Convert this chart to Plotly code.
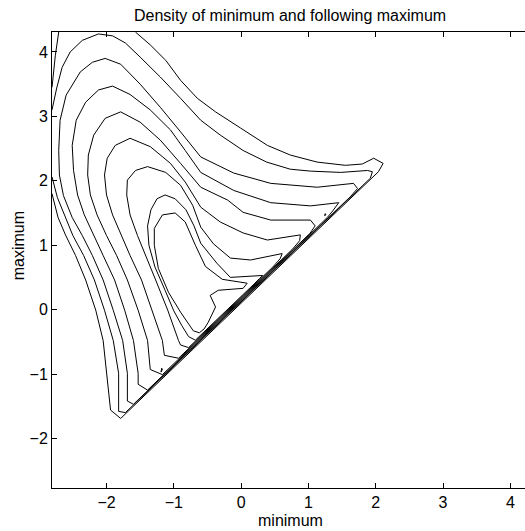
import plotly.graph_objects as go

# Contour lines, as (minimum, maximum) pairs, outermost level first
lvl0_corner_x = [-2.71, -2.76, -2.81]
lvl0_corner_y = [4.31, 3.95, 3.45]

lvl0_x = [-1.57, -1.35, -1.12, -0.90, -0.65, -0.38, -0.01, 0.39, 0.73, 1.13, 1.55, 1.80, 1.97, 2.11, 2.04,
          -1.79, -1.94, -1.97, -2.00, -2.05, -2.16, -2.31, -2.46, -2.61, -2.72, -2.81]
lvl0_y = [4.31, 4.11, 3.87, 3.56, 3.28, 3.07, 2.82, 2.55, 2.40, 2.29, 2.24, 2.26, 2.35, 2.27, 2.14,
          -1.69, -1.56, -1.25, -0.99, -0.48, -0.01, 0.46, 0.84, 1.16, 1.43, 1.80]

lvl1_x = [-2.81, -2.74, -2.66, -2.54, -2.36, -2.12, -1.91, -1.72, -1.50, -1.20, -0.90, -0.60, -0.31, 0.03,
          0.38, 0.73, 1.03, 1.48, 1.88, 1.95, 1.92,
          -1.72, -1.82, -1.82, -1.90, -2.03, -2.18, -2.34, -2.50, -2.61, -2.73, -2.81]
lvl1_y = [3.10, 3.44, 3.76, 4.00, 4.18, 4.28, 4.25, 4.14, 3.92, 3.61, 3.28, 2.94, 2.71, 2.47,
          2.29, 2.18, 2.15, 2.13, 2.16, 2.14, 2.04,
          -1.60, -1.58, -0.99, -0.48, -0.01, 0.46, 0.84, 1.15, 1.43, 1.74, 2.06]

lvl2_x = [-1.60, -1.69, -1.69, -1.76, -1.90, -2.05, -2.21, -2.36, -2.51, -2.64, -2.70, -2.71, -2.69, -2.60,
          -2.39, -2.21, -2.02, -1.79, -1.50, -1.20, -0.90, -0.60, -0.11, 0.44, 1.13, 1.67, 1.73, 1.62, -1.60]
lvl2_y = [-1.47, -1.42, -0.99, -0.48, -0.01, 0.46, 0.84, 1.15, 1.43, 1.77, 2.09, 2.47, 2.94, 3.33,
          3.69, 3.84, 3.90, 3.81, 3.50, 3.14, 2.76, 2.37, 2.12, 1.96, 1.90, 1.96, 1.88, 1.75, -1.47]

lvl3_x = [-1.39, -1.53, -1.53, -1.60, -1.73, -1.88, -2.05, -2.19, -2.33, -2.43, -2.49, -2.51, -2.45, -2.31,
          -2.12, -1.91, -1.65, -1.35, -1.05, -0.83, -0.60, -0.11, 0.44, 1.03, 1.45, 1.36, 1.28, -1.39]
lvl3_y = [-1.25, -1.16, -0.99, -0.48, -0.01, 0.46, 0.84, 1.15, 1.47, 1.78, 2.16, 2.55, 2.94, 3.22,
          3.41, 3.47, 3.34, 3.10, 2.79, 2.47, 2.13, 1.85, 1.66, 1.61, 1.66, 1.53, 1.43, -1.25]

lvl4_x = [-1.17, -1.35, -1.39, -1.53, -1.69, -1.85, -2.00, -2.14, -2.24, -2.28, -2.27, -2.19, -2.02, -1.79,
          -1.50, -1.20, -0.90, -0.60, -0.20, 0.03, 0.44, 1.03, 1.10, 1.02, -1.17]
lvl4_y = [-1.01, -0.93, -0.48, -0.01, 0.46, 0.84, 1.15, 1.47, 1.78, 2.09, 2.40, 2.71, 2.97, 3.07,
          2.91, 2.63, 2.27, 1.90, 1.70, 1.51, 1.39, 1.39, 1.30, 1.18, -1.01]

lvl5_x = [-0.93, -1.14, -1.17, -1.32, -1.48, -1.65, -1.78, -1.91, -2.00, -2.03, -1.99, -1.87, -1.65, -1.35,
          -1.05, -0.83, -0.60, -0.31, 0.03, 0.39, 0.88, 0.87, 0.76, -0.93]
lvl5_y = [-0.755, -0.71, -0.48, -0.01, 0.46, 0.84, 1.15, 1.47, 1.78, 2.09, 2.35, 2.55, 2.66, 2.53,
          2.27, 1.98, 1.59, 1.36, 1.19, 1.08, 1.16, 1.07, 0.935, -0.755]

lvl6_x = [-0.78, -0.90, -0.93, -1.09, -1.27, -1.42, -1.54, -1.65, -1.70, -1.69, -1.57, -1.39, -1.12, -0.90,
          -0.72, -0.60, -0.41, -0.16, 0.14, 0.61, 0.58, 0.47, -0.78]
lvl6_y = [-0.59, -0.55, -0.48, -0.01, 0.46, 0.84, 1.15, 1.47, 1.78, 2.01, 2.16, 2.22, 2.13, 1.93,
          1.62, 1.28, 1.02, 0.80, 0.77, 0.87, 0.79, 0.66, -0.59]

lvl7_x = [-0.68, -0.78, -0.88, -1.00, -1.13, -1.28, -1.37, -1.39, -1.34, -1.25, -1.13, -0.98, -0.82,
          -0.70, -0.60, -0.36, -0.16, 0.21, 0.32, 0.27, 0.19, -0.68]
lvl7_y = [-0.475, -0.42, -0.25, -0.02, 0.30, 0.66, 1.00, 1.30, 1.55, 1.72, 1.78, 1.72, 1.55,
          1.30, 1.03, 0.72, 0.50, 0.52, 0.53, 0.48, 0.395, -0.475]

lvl8_x = [-1.17, -0.98, -0.83, -0.68, -0.53, -0.28, 0.09, 0.03, -0.34, -0.46, -0.38, -0.49, -0.55, -0.62,
          -0.71, -0.90, -1.08, -1.23, -1.29, -1.29, -1.17]
lvl8_y = [1.47, 1.50, 1.36, 1.00, 0.67, 0.47, 0.41, 0.33, 0.30, 0.22, 0.04, -0.20, -0.30, -0.36,
          -0.33, -0.04, 0.27, 0.64, 1.00, 1.26, 1.47]

dot1_x = [-1.19, -1.17, -1.18, -1.19]
dot1_y = [-0.97, -0.93, -0.91, -0.97]
dot2_x = [1.24, 1.26, 1.25, 1.24]
dot2_y = [1.46, 1.47, 1.49, 1.46]

contours = [
    (lvl0_corner_x, lvl0_corner_y), (lvl0_x, lvl0_y), (lvl1_x, lvl1_y), (lvl2_x, lvl2_y),
    (lvl3_x, lvl3_y), (lvl4_x, lvl4_y), (lvl5_x, lvl5_y), (lvl6_x, lvl6_y), (lvl7_x, lvl7_y),
    (lvl8_x, lvl8_y), (dot1_x, dot1_y), (dot2_x, dot2_y),
]

x_ticks = [-2, -1, 0, 1, 2, 3, 4]
y_ticks = [-2, -1, 0, 1, 2, 3, 4]

fig = go.Figure()
for cx, cy in contours:
    fig.add_trace(go.Scatter(x=cx, y=cy, mode="lines",
                             line=dict(color="black", width=1),
                             showlegend=False, hoverinfo="skip"))

font = "Liberation Sans, Arial, Helvetica, sans-serif"
fig.update_layout(
    width=525, height=531,
    margin=dict(l=52, r=0, t=32, b=43),
    paper_bgcolor="white", plot_bgcolor="white",
    font=dict(family=font, size=16, color="black"),
    showlegend=False,
    hovermode=False,
    xaxis=dict(range=[-2.81, 4.218], tickvals=x_ticks, ticks="inside", ticklen=5,
               tickcolor="black", showline=True, linecolor="black", linewidth=1,
               mirror="ticks", showgrid=False, zeroline=False),
    yaxis=dict(range=[-2.77, 4.31], tickvals=y_ticks, ticks="inside", ticklen=5,
               tickcolor="black", showline=True, linecolor="black", linewidth=1,
               mirror=False, showgrid=False, zeroline=False),
    annotations=[
        dict(text="Density of minimum and following maximum", xref="paper", yref="paper",
             x=0.504, y=1.0, yshift=17, xanchor="center", yanchor="middle",
             showarrow=False, font=dict(size=16)),
        dict(text="minimum", xref="paper", yref="paper", x=0.504, y=0, yshift=-32,
             xanchor="center", yanchor="middle", showarrow=False, font=dict(size=16)),
        dict(text="maximum", xref="paper", yref="paper", x=0, xshift=-34, y=0.53,
             xanchor="center", yanchor="middle", textangle=-90, showarrow=False,
             font=dict(size=16)),
    ],
)
fig.write_html("out.html", config={"displayModeBar": False, "staticPlot": True},
               post_script="document.body.style.margin='0px';")
